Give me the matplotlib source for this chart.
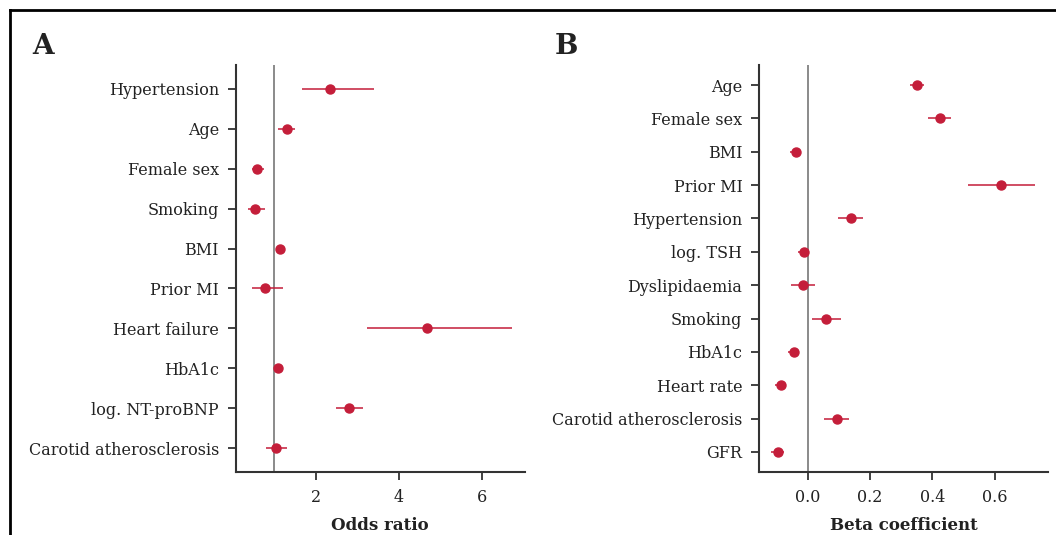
import numpy as np
import matplotlib
matplotlib.use("Agg")
import matplotlib.pyplot as plt

plt.rcParams['font.family'] = ['DejaVu Serif']

# Panel A: odds ratios
labels_a = ["Hypertension", "Age", "Female sex", "Smoking", "BMI", "Prior MI",
            "Heart failure", "HbA1c", "log. NT-proBNP", "Carotid atherosclerosis"]
or_est = [2.35, 1.30, 0.59, 0.54, 1.13, 0.77, 4.69, 1.08, 2.80, 1.04]
or_lo = [1.66, 1.10, 0.47, 0.37, 1.04, 0.47, 3.24, 1.03, 2.49, 0.81]
or_hi = [3.40, 1.49, 0.75, 0.77, 1.24, 1.21, 6.73, 1.13, 3.15, 1.31]

# Panel B: beta coefficients
labels_b = ["Age", "Female sex", "BMI", "Prior MI", "Hypertension", "log. TSH",
            "Dyslipidaemia", "Smoking", "HbA1c", "Heart rate",
            "Carotid atherosclerosis", "GFR"]
beta_est = [0.351, 0.423, -0.037, 0.621, 0.138, -0.013, -0.016, 0.060, -0.045, -0.085, 0.094, -0.094]
beta_lo = [0.329, 0.385, -0.057, 0.513, 0.096, -0.032, -0.055, 0.015, -0.063, -0.104, 0.052, -0.117]
beta_hi = [0.372, 0.460, -0.020, 0.730, 0.178, -0.003, 0.023, 0.106, -0.027, -0.071, 0.134, -0.076]

red = "#c41e3a"
spine_col = "#333333"

fig = plt.figure(figsize=(10.56, 5.35), dpi=100)

# frame around the figure (runs off right/bottom edge)
fig.add_artist(plt.Line2D([10/1056, 10/1056], [0, 1 - 10/535], transform=fig.transFigure,
                          color="black", lw=2))
fig.add_artist(plt.Line2D([10/1056, 1], [1 - 10/535, 1 - 10/535], transform=fig.transFigure,
                          color="black", lw=2))


def forest(ax, labels, est, lo, hi, ref, xlim, xticks, xticklabels, xlabel):
    y = np.arange(len(labels))[::-1]
    ax.axvline(ref, color="#777777", lw=1.2, zorder=1)
    ax.hlines(y, lo, hi, color=red, lw=1.3, alpha=0.85, zorder=2)
    ax.plot(est, y, "o", color=red, ms=6.5, zorder=3)
    ax.set_yticks(y)
    ax.set_yticklabels(labels, fontsize=11.5, color="#222222")
    ax.set_ylim(-0.6, len(labels) - 1 + 0.6)
    ax.set_xlim(*xlim)
    ax.set_xticks(xticks)
    ax.set_xticklabels(xticklabels, fontsize=11.5, color="#222222")
    ax.set_xlabel(xlabel, fontsize=12, fontweight="bold", color="#222222", labelpad=8)
    for s in ["top", "right"]:
        ax.spines[s].set_visible(False)
    for s in ["left", "bottom"]:
        ax.spines[s].set_color(spine_col)
        ax.spines[s].set_linewidth(1.5)
    ax.tick_params(axis="both", length=6, width=1.3, color=spine_col, pad=6)


ax1 = fig.add_axes([0.2232, 0.1178, 0.2737, 0.7607])
forest(ax1, labels_a, or_est, or_lo, or_hi, 1.0, (0.07, 7.04), [2, 4, 6],
       ["2", "4", "6"], "Odds ratio")

ax2 = fig.add_axes([0.7188, 0.1178, 0.2734, 0.7607])
forest(ax2, labels_b, beta_est, beta_lo, beta_hi, 0.0, (-0.156, 0.77), [0.0, 0.2, 0.4, 0.6],
       ["0.0", "0.2", "0.4", "0.6"], "Beta coefficient")

fig.text(32/1056, 1 - 47/535, "A", fontsize=20, fontweight="bold", va="center", ha="left",
         color="#222222")
fig.text(555/1056, 1 - 47/535, "B", fontsize=20, fontweight="bold", va="center", ha="left",
         color="#222222")

fig.savefig("out.png", dpi=100)
